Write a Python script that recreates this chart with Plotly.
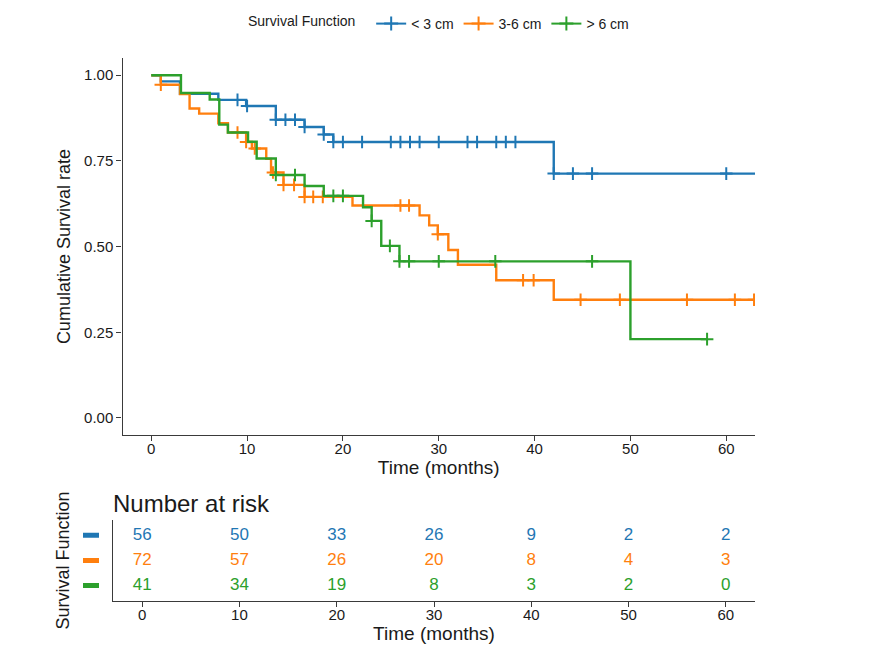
import numpy as np
import plotly.graph_objects as go

# ---------------- data ----------------
series_names = ["< 3 cm", "3-6 cm", "> 6 cm"]
series_colors = ["#1F77B4", "#FF7F0E", "#2CA02C"]

blue_time = [0, 1, 3, 7, 9.9, 13, 16, 18, 19, 42, 66]
blue_surv = [1.0, 0.982, 0.946, 0.928, 0.910, 0.870, 0.849, 0.827, 0.805, 0.713, 0.713]
blue_cens = [9, 10, 13, 14, 15, 16, 18, 19, 20, 22, 25, 26, 27, 28, 30, 33, 34, 36, 37, 38, 42, 44, 46, 60]

orange_time = [0, 1, 3, 4, 5, 7, 8, 9.9, 10.5, 12, 12.5, 13.8, 16, 21, 28, 29, 29.9, 31, 32, 36, 42, 66]
orange_surv = [1.0, 0.972, 0.945, 0.903, 0.888, 0.860, 0.833, 0.805, 0.786, 0.756, 0.716, 0.680,
               0.645, 0.620, 0.591, 0.562, 0.536, 0.490, 0.447, 0.402, 0.345, 0.345]
orange_cens = [1, 9, 9.9, 10.8, 12.7, 13.8, 14.9, 16, 16.9, 17.9, 26, 26.9, 29.9, 38.8, 39.9,
               44.8, 48.9, 55.9, 60.9, 62.9]

green_time = [0, 3.1, 6.1, 7.1, 8, 10.1, 11, 13, 16, 18, 22.1, 23, 24, 25.9, 50, 58]
green_surv = [1.0, 0.948, 0.929, 0.856, 0.833, 0.806, 0.757, 0.709, 0.677, 0.648, 0.615, 0.575,
              0.502, 0.457, 0.230, 0.230]
green_cens = [13, 15, 19, 20, 23, 24.9, 25.9, 26.9, 30, 35.9, 46, 58]

risk_times = [0, 10, 20, 30, 40, 50, 60]
blue_risk = [56, 50, 33, 26, 9, 2, 2]
orange_risk = [72, 57, 26, 20, 8, 4, 3]
green_risk = [41, 34, 19, 8, 3, 2, 0]

x_ticks = [0, 10, 20, 30, 40, 50, 60]
y_ticks = [0.0, 0.25, 0.5, 0.75, 1.0]
y_ticklabels = ["0.00", "0.25", "0.50", "0.75", "1.00"]

# ---------------- figure ----------------
W, H = 886, 653
OFF = 8  # page body margin
FONT = "Liberation Sans, Arial, sans-serif"
AXCOL = "#3a3a3a"

fig = go.Figure()

curves = [(blue_time, blue_surv, blue_cens), (orange_time, orange_surv, orange_cens),
          (green_time, green_surv, green_cens)]

for (t, s, c), name, col in zip(curves, series_names, series_colors):
    fig.add_trace(go.Scatter(x=t, y=s, mode="lines", line=dict(color=col, width=2.4, shape="hv"),
                             showlegend=False, xaxis="x", yaxis="y", hoverinfo="skip"))
    t_arr = np.array(t)
    idx = np.searchsorted(t_arr, np.array(c), side="right") - 1
    cy = [s[i] for i in idx]
    fig.add_trace(go.Scatter(x=c, y=cy, mode="markers",
                             marker=dict(symbol="cross-thin", size=9, line=dict(color=col, width=2)),
                             showlegend=False, xaxis="x", yaxis="y", hoverinfo="skip"))
    # legend entry
    fig.add_trace(go.Scatter(x=[None], y=[None], mode="lines+markers", name=name,
                             line=dict(color=col, width=2),
                             marker=dict(symbol="cross-thin", size=10, line=dict(color=col, width=2)),
                             xaxis="x", yaxis="y"))

# risk table
risk_rows = [blue_risk, orange_risk, green_risk]
for r, (vals, col) in enumerate(zip(risk_rows, series_colors)):
    fig.add_trace(go.Scatter(x=risk_times, y=[r + 1] * len(risk_times), mode="text",
                             text=[str(v) for v in vals],
                             textfont=dict(color=col, size=17, family=FONT),
                             showlegend=False, xaxis="x2", yaxis="y2", hoverinfo="skip"))

def px_x(p):
    return (p - OFF) / W

def px_y(p):
    return 1 - (p - OFF) / H

# colored row keys of the risk table (ggsurvplot-style y labels)
shapes = []
for r, col in enumerate(series_colors):
    shapes.append(dict(type="rect", xref="paper", yref="y2",
                       x0=px_x(83), x1=px_x(99), y0=r + 1 - 0.1, y1=r + 1 + 0.1,
                       fillcolor=col, line=dict(width=0)))

axis_common = dict(showline=True, linecolor=AXCOL, linewidth=1.4, ticks="outside", ticklen=5,
                   tickcolor=AXCOL, tickwidth=1.2, showgrid=False, zeroline=False,
                   tickfont=dict(family=FONT, size=15, color="#1a1a1a"))

fig.update_layout(
    width=W, height=H,
    margin=dict(l=0, r=0, t=0, b=0),
    paper_bgcolor="white", plot_bgcolor="white",
    font=dict(family=FONT, color="#1a1a1a"),
    xaxis=dict(domain=[px_x(122.5), px_x(755)], range=[-3, 63], anchor="y",
               tickvals=x_ticks, ticktext=[str(v) for v in x_ticks], ticklabelstandoff=-5,
               title=dict(text="Time (months)", font=dict(size=19, family=FONT), standoff=2),
               **axis_common),
    yaxis=dict(domain=[px_y(433), px_y(52.5)], range=[-0.05, 1.05], anchor="x",
               tickvals=y_ticks, ticktext=y_ticklabels,
               title=dict(text="Cumulative Survival rate", font=dict(size=18, family=FONT), standoff=8),
               **axis_common),
    xaxis2=dict(domain=[px_x(113), px_x(755)], range=[-3, 63], anchor="y2",
                tickvals=x_ticks, ticktext=[str(v) for v in x_ticks], ticklabelstandoff=-5,
                title=dict(text="Time (months)", font=dict(size=19, family=FONT), standoff=2),
                **axis_common),
    yaxis2=dict(domain=[px_y(600), px_y(519)], range=[3.6, 0.4], anchor="x2",
                showline=True, linecolor=AXCOL, linewidth=1.4, ticks="", showgrid=False,
                zeroline=False, tickvals=[1, 2, 3], ticktext=["", "", ""],
                title=dict(text="Survival Function", font=dict(size=18, family=FONT), standoff=35)),
    shapes=shapes,
    legend=dict(orientation="h", x=px_x(440), xanchor="center", y=px_y(18), yanchor="middle",
                title=dict(text="Survival Function  ", side="left", font=dict(size=14, family=FONT)),
                font=dict(size=14, family=FONT), itemwidth=30, bgcolor="rgba(0,0,0,0)"),
    annotations=[dict(text="Number at risk", x=px_x(111), y=px_y(502), xref="paper", yref="paper",
                      xanchor="left", yanchor="middle", showarrow=False,
                      font=dict(size=24, family=FONT, color="#1a1a1a"))],
)

fig.write_html("out.html")
